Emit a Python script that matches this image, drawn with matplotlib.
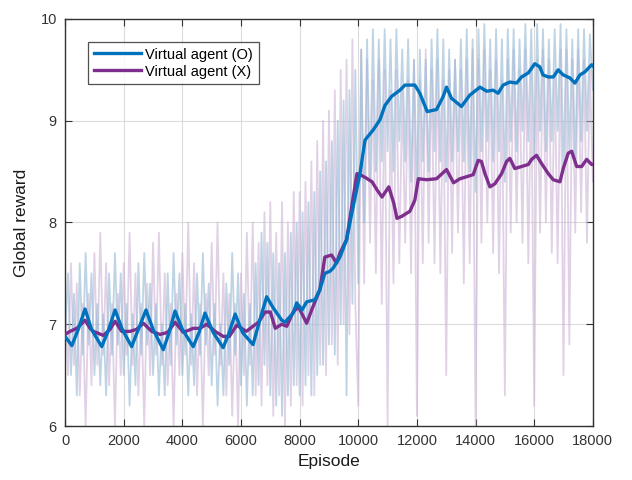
import numpy as np
import matplotlib
matplotlib.use("Agg")
import matplotlib.pyplot as plt

plt.rcParams['font.family'] = ['Liberation Sans', 'DejaVu Sans']

# ---- data ----
raw_step = 100
raw_o = [6.9, 7.5, 6.5, 7.3, 6.3, 7.6, 6.7, 7.7, 6.8, 7.5,
         6.5, 7.2, 6.4, 7.1, 6.3, 7.5, 6.7, 7.7, 6.8, 7.5,
         6.5, 7.2, 6.2, 7.1, 6.4, 7.6, 6.7, 7.7, 6.8, 7.4,
         6.5, 7.2, 6.3, 7.0, 6.3, 7.5, 6.6, 7.7, 6.8, 7.5,
         6.5, 7.2, 6.3, 7.1, 6.4, 7.5, 6.7, 7.7, 6.8, 7.4,
         6.4, 7.2, 6.2, 7.0, 6.3, 7.4, 6.6, 7.7, 6.7, 7.5,
         6.4, 7.3, 6.2, 7.2, 6.3, 7.6, 6.4, 7.9, 6.6, 7.8,
         6.3, 7.7, 6.2, 7.6, 6.1, 7.7, 6.3, 7.9, 6.4, 8.0,
         6.3, 8.1, 6.4, 8.2, 6.3, 8.3, 6.5, 8.5, 6.6, 8.6,
         6.8, 8.8, 6.7, 9.0, 7.0, 9.2, 6.3, 9.3, 7.2, 9.5,
         7.4, 9.7, 8.0, 9.8, 8.4, 9.9, 8.5, 9.8, 8.6, 9.9,
         8.7, 9.8, 8.5, 9.9, 8.8, 9.7, 8.6, 9.8, 8.4, 9.6,
         8.3, 9.7, 8.6, 9.6, 8.5, 9.8, 8.7, 9.9, 8.6, 9.8,
         8.4, 9.7, 8.6, 9.6, 8.7, 9.8, 8.6, 9.9, 8.5, 9.8,
         8.3, 9.9, 8.7, 9.95, 8.8, 9.8, 8.6, 9.9, 8.7, 9.8,
         8.4, 9.9, 8.8, 9.9, 8.7, 9.8, 8.9, 9.95, 8.8, 9.9,
         8.6, 9.95, 8.9, 9.9, 8.7, 9.8, 8.8, 9.9, 8.9, 9.95,
         8.5, 9.9, 8.7, 9.8, 8.6, 9.9, 8.8, 9.9, 8.9, 9.85,
         9.3]
raw_x = [7.3, 6.5, 7.6, 6.6, 7.4, 6.3, 7.2, 6.0, 7.3, 6.4,
         7.7, 6.6, 7.9, 6.7, 7.6, 6.4, 7.2, 6.0, 7.3, 6.5,
         7.6, 6.7, 7.9, 6.6, 7.5, 6.3, 7.2, 6.0, 7.4, 6.5,
         7.8, 6.7, 7.9, 6.6, 7.5, 6.4, 7.2, 6.0, 7.3, 6.5,
         7.7, 6.7, 8.0, 6.6, 7.6, 6.3, 7.2, 6.0, 7.3, 6.5,
         7.8, 6.7, 8.0, 6.6, 7.5, 6.3, 7.3, 6.1, 7.2, 6.0,
         7.5, 6.5, 7.9, 6.6, 8.0, 6.3, 7.8, 6.2, 8.1, 6.4,
         8.2, 6.1, 7.9, 6.3, 8.2, 6.0, 8.0, 6.2, 8.3, 6.4,
         8.3, 6.2, 8.4, 6.5, 8.6, 6.3, 8.8, 6.6, 9.0, 6.5,
         9.1, 6.8, 9.3, 6.6, 9.5, 7.0, 9.6, 6.9, 9.8, 7.2,
         6.2, 9.7, 7.4, 9.6, 7.8, 9.4, 7.5, 9.6, 7.2, 9.5,
         6.0, 9.3, 7.4, 9.5, 7.6, 9.3, 7.8, 9.4, 7.5, 9.6,
         6.1, 9.4, 7.6, 9.7, 7.8, 9.5, 7.6, 9.6, 7.5, 9.4,
         6.5, 9.5, 7.7, 9.6, 7.9, 9.5, 7.4, 9.6, 7.6, 9.7,
         6.0, 9.6, 7.8, 9.7, 8.0, 9.5, 7.7, 9.6, 7.5, 9.4,
         6.3, 9.6, 7.9, 9.7, 8.0, 9.5, 7.8, 9.7, 7.6, 9.5,
         6.2, 9.6, 7.9, 9.7, 8.0, 9.6, 7.7, 9.5, 7.6, 9.7,
         6.5, 9.7, 6.8, 9.6, 7.9, 9.7, 8.1, 9.6, 7.8, 9.5,
         8.4]

ep_o = [0, 230, 450, 680, 900, 1250, 1450, 1705, 1950, 2270, 2500, 2760,
        3000, 3350, 3550, 3750, 4000, 4370, 4570, 4770, 5050, 5390, 5600,
        5800, 6050, 6410, 6650, 6875, 7100, 7390, 7500, 7780, 7900, 8080,
        8240, 8520, 8690, 8860, 9030, 9140, 9375, 9600, 9800, 10057, 10230,
        10510, 10740, 10910, 11140, 11420, 11590, 11930, 12100, 12350,
        12670, 12900, 13010, 13180, 13520, 13800, 14150, 14380, 14600,
        14770, 14940, 15170, 15400, 15570, 15800, 16020, 16190, 16300,
        16480, 16650, 16820, 16990, 17220, 17390, 17560, 17730, 17960, 18000]
avg_o = [6.88, 6.79, 6.95, 7.15, 6.95, 6.78, 6.92, 7.14, 6.95, 6.78, 6.95, 7.14,
         6.95, 6.75, 6.92, 7.13, 6.95, 6.78, 6.92, 7.11, 6.92, 6.77, 6.92,
         7.10, 6.92, 6.80, 7.05, 7.27, 7.16, 7.04, 7.02, 7.11, 7.21, 7.14,
         7.22, 7.24, 7.34, 7.50, 7.52, 7.55, 7.66, 7.83, 8.12, 8.48, 8.81,
         8.91, 9.01, 9.15, 9.24, 9.30, 9.35, 9.35, 9.27, 9.09,
         9.11, 9.24, 9.33, 9.22, 9.14, 9.25, 9.33, 9.29, 9.30,
         9.27, 9.35, 9.38, 9.37, 9.43, 9.47, 9.56, 9.53, 9.45,
         9.43, 9.43, 9.50, 9.45, 9.42, 9.37, 9.45, 9.48, 9.55, 9.54]

ep_x = [0, 170, 400, 682, 850, 966, 1307, 1534, 1705, 1932, 2216, 2443, 2670,
        2955, 3239, 3500, 3750, 4034, 4375, 4600, 4830, 5114, 5398, 5600,
        5852, 6180, 6410, 6600, 6820, 7000, 7170, 7390, 7560, 7780, 7960,
        8240, 8410, 8690, 8860, 9090, 9260, 9375, 9600, 9800, 9955, 10060,
        10250, 10470, 10640, 10810, 11040, 11210, 11320, 11480, 11760,
        11930, 12050, 12330, 12670, 13010, 13250, 13470, 13700, 13920,
        14090, 14200, 14320, 14490, 14660, 14890, 15060, 15170, 15340,
        15570, 15800, 15910, 16080, 16250, 16480, 16650, 16880, 16990,
        17160, 17280, 17450, 17620, 17790, 17960, 18000]
avg_x = [6.90, 6.93, 6.96, 7.04, 6.96, 6.93, 6.89, 6.95, 7.03, 6.93, 6.93, 6.95, 7.01,
         6.93, 6.90, 6.92, 7.02, 6.92, 6.96, 6.96, 7.00, 6.93, 6.88, 6.88,
         6.99, 6.93, 6.98, 7.02, 7.12, 7.12, 6.96, 7.00, 6.98, 7.12, 7.17,
         7.01, 7.14, 7.34, 7.66, 7.68, 7.60, 7.70, 7.83, 8.20, 8.48, 8.47,
         8.44, 8.40, 8.32, 8.25, 8.35, 8.19, 8.04, 8.06, 8.11,
         8.22, 8.43, 8.42, 8.43, 8.52, 8.39, 8.43, 8.45, 8.47,
         8.61, 8.60, 8.48, 8.35, 8.38, 8.48, 8.60, 8.63, 8.53,
         8.55, 8.57, 8.62, 8.66, 8.58, 8.48, 8.42, 8.40, 8.53,
         8.68, 8.70, 8.55, 8.55, 8.62, 8.57, 8.57]

labels = ['Virtual agent (O)', 'Virtual agent (X)']
x_ticks = [0, 2000, 4000, 6000, 8000, 10000, 12000, 14000, 16000, 18000]
y_ticks = [6, 7, 8, 9, 10]

# ---- plot ----
fig = plt.figure(figsize=(6.32, 4.8), dpi=100)
ax = fig.add_axes([0.103, 0.1125, 0.835, 0.848])

raw_ep = np.arange(len(raw_o)) * raw_step
ax.plot(raw_ep, raw_x, color=(0.80, 0.70, 0.84), lw=1.3, alpha=0.6, zorder=1)
ax.plot(raw_ep, raw_o, color=(0.58, 0.72, 0.83), lw=1.3, alpha=0.6, zorder=2)

ax.plot(ep_o, avg_o, color='#0072BD', lw=2.4, label=labels[0], zorder=4)
ax.plot(ep_x, avg_x, color='#7E2F8E', lw=2.4, label=labels[1], zorder=3)

ax.set_xlim(0, 18000)
ax.set_ylim(6, 10)
ax.set_xticks(x_ticks)
ax.set_yticks(y_ticks)
ax.set_xticklabels([str(t) for t in x_ticks])
ax.set_yticklabels([str(t) for t in y_ticks])
ax.grid(True, color=(0.86, 0.86, 0.86), lw=0.8)
ax.set_axisbelow(True)
ax.tick_params(direction='in', top=True, right=True, length=5, width=0.8,
               labelsize=10.5, colors=(0.2, 0.2, 0.2), pad=6)
for s in ax.spines.values():
    s.set_color((0.2, 0.2, 0.2))
    s.set_linewidth(1.0)
ax.set_xlabel('Episode', fontsize=12.5, color=(0.1, 0.1, 0.1), labelpad=4)
ax.set_ylabel('Global reward', fontsize=12.5, color=(0.1, 0.1, 0.1), labelpad=8)

leg = ax.legend(loc='upper left', bbox_to_anchor=(0.044, 0.944), fontsize=10.5,
                frameon=True, fancybox=False, edgecolor=(0.15, 0.15, 0.15),
                handlelength=3.2, handletextpad=0.3, borderpad=0.4,
                labelspacing=0.2, borderaxespad=0)
leg.get_frame().set_linewidth(0.9)

fig.savefig('out.png', dpi=100)
